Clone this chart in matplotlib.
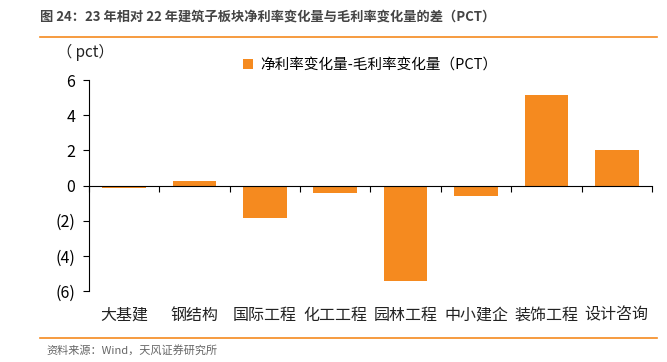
import matplotlib.pyplot as plt
import numpy as np
import matplotlib.transforms as mtransforms

plt.rcParams['font.family'] = ['Noto Sans CJK SC', 'DejaVu Sans']

# 数据
categorias = ['大基建', '钢结构', '国际工程', '化工工程', '园林工程', '中小建企', '装饰工程', '设计咨询']
valores = [-0.15, 0.28, -1.85, -0.45, -5.45, -0.6, 5.15, 2.0]
yticks = [6, 4, 2, 0, -2, -4, -6]

laranja = '#F58A1F'

fig = plt.figure(figsize=(6.67, 3.62), dpi=100)
ax = fig.add_axes([0.1334, 0.196, 0.844, 0.583])

x = np.arange(len(categorias))
ax.bar(x, valores, width=0.62, color=laranja, label='净利率变化量-毛利率变化量（PCT）', zorder=1)

ax.set_xlim(-0.5, len(categorias) - 0.5)
ax.set_ylim(-6, 6)

# eixo x na linha do zero, ticks nas fronteiras
ax.spines['bottom'].set_position(('data', 0))
ax.spines['bottom'].set_zorder(3)
ax.spines['top'].set_visible(False)
ax.spines['right'].set_visible(False)
ax.set_xticks(np.arange(len(categorias) + 1) - 0.5)
ax.set_xticklabels([])
ax.tick_params(axis='x', direction='out', length=4, width=0.8)
ax.set_yticks(yticks)
ax.set_yticklabels([str(v) if v >= 0 else '(' + str(-v) + ')' for v in yticks], fontsize=11.5)
ax.tick_params(axis='y', direction='out', length=4, width=0.8, pad=6)

trans = mtransforms.blended_transform_factory(ax.transData, ax.transAxes)
for i, nome in enumerate(categorias):
    ax.text(i, -0.115, nome, transform=trans, ha='center', va='center', fontsize=11.5, color='#222222')

fig.text(0.085, 0.855, '（ pct）', fontsize=11, ha='left', va='center', color='#222222')

leg = ax.legend(loc='upper center', bbox_to_anchor=(0.5, 1.165), frameon=False, fontsize=10.5,
                handlelength=0.7, handleheight=0.7, handletextpad=0.5)

# título e fonte
fig.text(0.06, 0.953, '图 24：23 年相对 22 年建筑子板块净利率变化量与毛利率变化量的差（PCT）',
         fontsize=9.5, fontweight='bold', color='#444444', ha='left', va='center')
fig.add_artist(plt.Line2D([0.06, 0.985], [0.898, 0.898], color=laranja, lw=1.2, transform=fig.transFigure))
fig.add_artist(plt.Line2D([0.06, 0.985], [0.066, 0.066], color=laranja, lw=1.2, transform=fig.transFigure))
fig.text(0.07, 0.033, '资料来源：Wind，天风证券研究所', fontsize=8, color='#666666', ha='left', va='center')

plt.savefig('out.png', dpi=100)
